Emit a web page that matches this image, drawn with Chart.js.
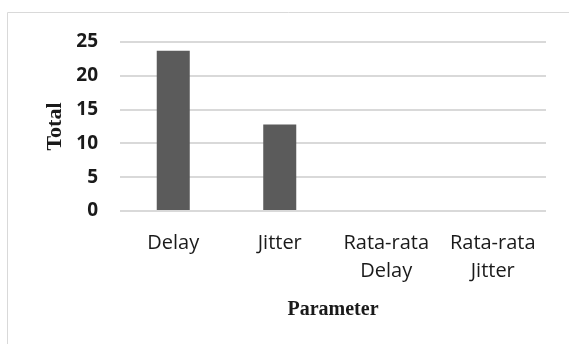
<!DOCTYPE html>
<html>
<head>
<meta charset="utf-8">
<script src="https://cdn.jsdelivr.net/npm/chart.js@4/dist/chart.umd.min.js"></script>
<style>
  html, body { margin: 0; padding: 0; background: #fff; }
  #wrap { width: 569px; height: 344px; position: relative; }
</style>
</head>
<body>
<div id="wrap"><canvas id="chart"></canvas></div>
<script>
const categories = [['Delay'], ['Jitter'], ['Rata-rata', 'Delay'], ['Rata-rata', 'Jitter']];
const totals = [23.7, 12.8, 0, 0];
const yTicks = [0, 5, 10, 15, 20, 25];

// light frame around the chart, runs off the right and bottom edges
const framePlugin = {
    id: 'frame',
    beforeDraw(chart) {
        const ctx = chart.ctx;
        ctx.save();
        ctx.strokeStyle = '#d9d9d9';
        ctx.lineWidth = 1;
        ctx.beginPath();
        ctx.moveTo(7.5, 400);
        ctx.lineTo(7.5, 12.5);
        ctx.lineTo(600, 12.5);
        ctx.stroke();
        ctx.restore();
    }
};

new Chart(document.querySelector('#chart').getContext('2d'), {
    type: 'bar',
    data: {
        labels: categories,
        datasets: [{
            label: 'Total',
            data: totals,
            backgroundColor: '#5b5b5b',
            borderWidth: 0,
            categoryPercentage: 1,
            barPercentage: 0.31
        }]
    },
    options: {
        responsive: true,
        maintainAspectRatio: false,
        animation: false,
        layout: { padding: { left: 0, right: 23, top: 42, bottom: 0 } },
        plugins: {
            legend: { display: false },
            tooltip: { enabled: false }
        },
        scales: {
            x: {
                grid: { display: false, drawTicks: false },
                border: { display: false },
                ticks: {
                    color: '#1a1a1a',
                    font: { family: 'Open Sans', size: 20, lineHeight: 1.4 },
                    padding: 18,
                    maxRotation: 0
                },
                title: {
                    display: true,
                    text: 'Parameter',
                    color: '#1a1a1a',
                    font: { family: 'Liberation Serif', size: 20, weight: 'bold' },
                    padding: { top: 0, bottom: 22 }
                },
                afterFit(scale) { scale.height = 133; }
            },
            y: {
                min: 0,
                max: 25,
                afterBuildTicks(scale) { scale.ticks = yTicks.map(v => ({ value: v })); },
                grid: { color: '#d9d9d9', lineWidth: 2, drawTicks: false },
                border: { display: false },
                ticks: {
                    color: '#1a1a1a',
                    font: { family: 'Open Sans', size: 19, weight: 'bold' },
                    padding: 22
                },
                title: {
                    display: true,
                    text: 'Total',
                    color: '#1a1a1a',
                    font: { family: 'Liberation Serif', size: 22, weight: 'bold' },
                    padding: { top: 42, bottom: 0 }
                },
                afterFit(scale) { scale.width = 120; }
            }
        }
    },
    plugins: [framePlugin]
});
</script>
</body>
</html>
